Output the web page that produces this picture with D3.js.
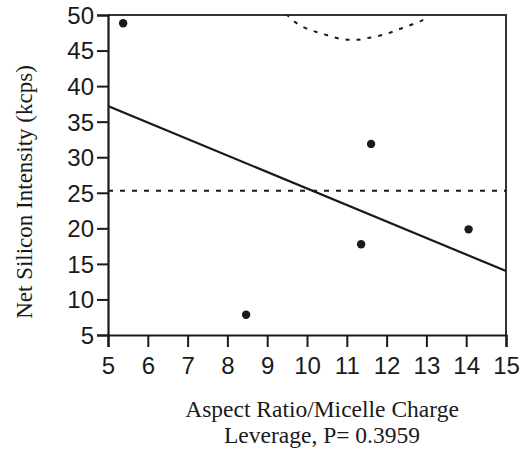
<!DOCTYPE html>
<html>
<head>
<meta charset="utf-8">
<script src="https://cdn.jsdelivr.net/npm/d3@7"></script>
<style>
body { margin: 0; background: #fff; }
svg { display: block; }
</style>
</head>
<body>
<svg id="chart" width="521" height="452"></svg>
<script>
// Observed points
const xValues = [5.38, 8.47, 11.36, 11.61, 14.06];
const yValues = [48.84, 7.85, 17.76, 31.87, 19.86];
// Fitted line endpoints
const fitX = [5, 15];
const fitY = [37.2, 14.0];
// Mean reference line
const meanY = 25.3;
// Upper confidence curve
const curveX = [9.48, 9.53, 9.77, 10.08, 10.35, 10.62, 10.91, 11.21, 11.50, 11.79, 12.09, 12.38, 12.67, 12.96, 13.05];
const curveY = [50.2, 49.86, 48.74, 47.90, 47.43, 46.96, 46.59, 46.50, 46.73, 47.06, 47.52, 48.14, 48.74, 49.54, 50.2];
// Ticks
const xTicks = [5, 6, 7, 8, 9, 10, 11, 12, 13, 14, 15];
const yTicks = [5, 10, 15, 20, 25, 30, 35, 40, 45, 50];
const xTitle = ["Aspect Ratio/Micelle Charge", "Leverage, P= 0.3959"];
const yTitle = "Net Silicon Intensity (kcps)";

(function () {
const svg = d3.select("#chart");
const pL = 108, pR = 506, pT = 15, pB = 335;
const x = d3.scaleLinear().domain([5, 15]).range([pL, pR]);
const y = d3.scaleLinear().domain([5, 50]).range([pB, pT]);
const ink = "#1a1a1a";

svg.append("defs").append("clipPath").attr("id", "plot")
  .append("rect").attr("x", pL).attr("y", pT).attr("width", pR - pL).attr("height", pB - pT);

// frame (top and right)
svg.append("path")
  .attr("d", `M${pL},${pT}H${pR}V${pB}`)
  .attr("fill", "none").attr("stroke", "#333").attr("stroke-width", 2);

// axes
const sansFont = "'Liberation Sans', Arial, sans-serif";
const gx = svg.append("g").attr("transform", `translate(0,${pB})`)
  .call(d3.axisBottom(x).tickValues(xTicks).tickSize(12).tickPadding(10).tickFormat(d3.format("d")));
const gy = svg.append("g").attr("transform", `translate(${pL},0)`)
  .call(d3.axisLeft(y).tickValues(yTicks).tickSize(11).tickPadding(3).tickFormat(d3.format("d")));
[gx, gy].forEach(g => {
  g.select(".domain").attr("stroke", ink).attr("stroke-width", 2.2);
  g.selectAll(".tick line").attr("stroke", ink).attr("stroke-width", 2);
  g.selectAll(".tick text").attr("fill", ink).style("font-family", sansFont).style("font-size", "24px");
});
gx.selectAll(".tick text").attr("dy", "0.71em");
gy.selectAll(".tick text").attr("dy", "0.35em");

const plot = svg.append("g").attr("clip-path", "url(#plot)");

// mean line
plot.append("line")
  .attr("x1", x(5)).attr("x2", x(15)).attr("y1", y(meanY)).attr("y2", y(meanY))
  .attr("stroke", ink).attr("stroke-width", 2).attr("stroke-dasharray", "5,7");

// confidence curve
plot.append("path")
  .datum(curveX.map((v, i) => [v, curveY[i]]))
  .attr("d", d3.line().x(d => x(d[0])).y(d => y(d[1])).curve(d3.curveMonotoneX))
  .attr("fill", "none").attr("stroke", ink).attr("stroke-width", 2).attr("stroke-dasharray", "4,7");

// fit line
plot.append("line")
  .attr("x1", x(fitX[0])).attr("y1", y(fitY[0])).attr("x2", x(fitX[1])).attr("y2", y(fitY[1]))
  .attr("stroke", ink).attr("stroke-width", 2.2);

// points
svg.append("g").selectAll("circle")
  .data(xValues.map((v, i) => [v, yValues[i]]))
  .join("circle")
  .attr("cx", d => x(d[0])).attr("cy", d => y(d[1])).attr("r", 4.2).attr("fill", ink);

// titles
const serif = "'Liberation Serif', 'Times New Roman', serif";
svg.append("text")
  .attr("transform", "translate(32,192) rotate(-90)")
  .attr("text-anchor", "middle").attr("fill", ink)
  .style("font-family", serif).style("font-size", "23px")
  .text(yTitle);
svg.append("g").selectAll("text").data(xTitle).join("text")
  .attr("x", 322).attr("y", (d, i) => 417 + i * 26)
  .attr("text-anchor", "middle").attr("fill", ink)
  .style("font-family", serif).style("font-size", "23.5px")
  .text(d => d);
})();
</script>
</body>
</html>
